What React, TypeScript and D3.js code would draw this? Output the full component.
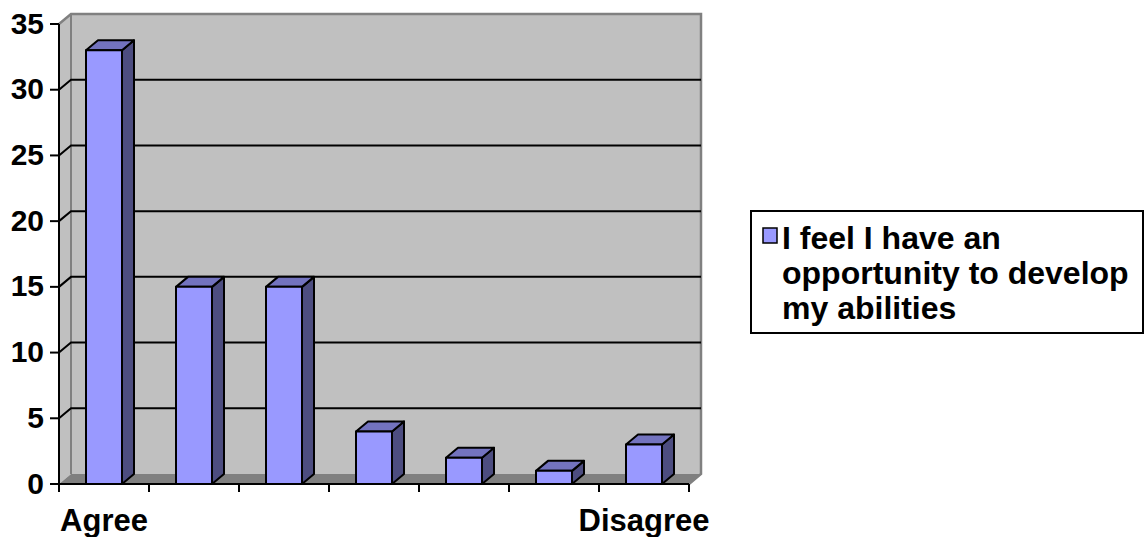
import React from "react";
import * as d3 from "d3";

const categories = ["Agree", "", "", "", "", "", "Disagree"];
const values = [33, 15, 15, 4, 2, 1, 3];
const yTicks = [0, 5, 10, 15, 20, 25, 30, 35];
const seriesName = ["I feel I have an", "opportunity to develop", "my abilities"];

const W = 1145;
const H = 537;
const DX = 12;
const DY = -10;
const FONT = "'Liberation Sans', Arial, sans-serif";

export default function App() {
  const x = d3.scaleBand<number>().domain(d3.range(categories.length)).range([59, 689]).paddingInner(0).paddingOuter(0);
  const y = d3.scaleLinear().domain([0, 35]).range([484, 24]);
  const x0 = 59, x1 = 689;
  const y0 = y(0), yTop = y(35);
  const bw = x.bandwidth() / 2.5;
  const off = (x.bandwidth() - bw) / 2;
  const pts = (a: number[][]) => a.map((p) => p.join(",")).join(" ");

  return (
    <svg width={W} height={H} style={{ position: "absolute", left: 0, top: 0, background: "#fff" }}>
      {/* walls */}
      <polygon points={pts([[x0 + DX, yTop + DY], [x1 + DX, yTop + DY], [x1 + DX, y0 + DY], [x0 + DX, y0 + DY]])} fill="#C0C0C0" />
      <polygon points={pts([[x0, yTop], [x0 + DX, yTop + DY], [x0 + DX, y0 + DY], [x0, y0]])} fill="#C0C0C0" />
      <polygon points={pts([[x0, y0], [x0 + DX, y0 + DY], [x1 + DX, y0 + DY], [x1, y0]])} fill="#808080" />
      {/* wall borders */}
      <polyline points={pts([[x0, yTop], [x0 + DX, yTop + DY], [x1 + DX, yTop + DY], [x1 + DX, y0 + DY], [x1, y0]])} fill="none" stroke="#808080" strokeWidth={2.5} />
      <line x1={x0 + DX} y1={yTop + DY} x2={x0 + DX} y2={y0 + DY} stroke="#808080" strokeWidth={2} />
      {/* gridlines */}
      {yTicks.filter((t) => t > 0 && t < 35).map((t) => (
        <polyline key={t} points={pts([[x0, y(t)], [x0 + DX, y(t) + DY], [x1 + DX, y(t) + DY]])} fill="none" stroke="#000" strokeWidth={2} />
      ))}
      {/* bars */}
      {values.map((v, i) => {
        const bx = (x(i) as number) + off;
        const by = y(v);
        return (
          <g key={i} stroke="#000" strokeWidth={2} strokeLinejoin="round">
            <polygon points={pts([[bx + bw, by], [bx + bw + DX, by + DY], [bx + bw + DX, y0 + DY], [bx + bw, y0]])} fill="#4D4D80" />
            <polygon points={pts([[bx, by], [bx + DX, by + DY], [bx + bw + DX, by + DY], [bx + bw, by]])} fill="#7373BF" />
            <rect x={bx} y={by} width={bw} height={y0 - by} fill="#9999FF" />
          </g>
        );
      })}
      {/* axes */}
      <line x1={x0} y1={yTop} x2={x0} y2={y0} stroke="#000" strokeWidth={2} />
      <line x1={x0} y1={y0} x2={x1} y2={y0} stroke="#000" strokeWidth={2} />
      {yTicks.map((t) => (
        <g key={t}>
          <line x1={x0 - 9} y1={y(t)} x2={x0} y2={y(t)} stroke="#000" strokeWidth={2} />
          <text x={44} y={y(t) - 1} dy="0.35em" textAnchor="end" fontFamily={FONT} fontWeight="bold" fontSize={30}>{t}</text>
        </g>
      ))}
      {d3.range(categories.length + 1).map((i) => {
        const tx = x0 + i * x.bandwidth();
        return <line key={i} x1={tx} y1={y0} x2={tx} y2={y0 + 8} stroke="#000" strokeWidth={2} />;
      })}
      {categories.map((c, i) => (
        <text key={i} x={(x(i) as number) + x.bandwidth() / 2} y={531} textAnchor="middle" fontFamily={FONT} fontWeight="bold" fontSize={31}>{c}</text>
      ))}
      {/* legend */}
      <rect x={751} y={211} width={392} height={122} fill="#fff" stroke="#000" strokeWidth={2} />
      <rect x={763} y={228} width={14} height={15} fill="#9999FF" stroke="#000" strokeWidth={1.5} />
      {seriesName.map((s, i) => (
        <text key={i} x={782} y={249 + i * 35} fontFamily={FONT} fontWeight="bold" fontSize={32}>{s}</text>
      ))}
    </svg>
  );
}
